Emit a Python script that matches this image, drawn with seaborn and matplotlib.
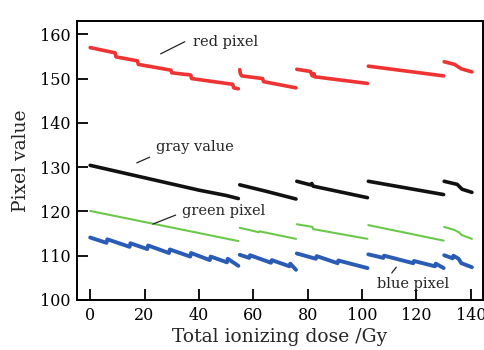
import matplotlib
matplotlib.use("Agg")
import matplotlib.pyplot as plt
import pandas as pd
import seaborn as sns

# Data (dose in Gy, pixel value), one list of segment ids per series
red_dose = [0, 9.2, 9.5, 17.4, 17.7, 29.7, 30, 37, 37.3, 52.4, 52.8, 54.5,
            55, 55.3, 55.8, 63.4, 63.8, 75.7,
            76, 81, 81.7, 82.3, 82.6, 102,
            102.3, 130,
            130.2, 134, 136.5, 140.4]
red_val = [157.0, 155.8, 154.9, 154.0, 153.2, 151.9, 151.3, 150.8, 150.0, 148.7, 147.9, 147.7,
           152.0, 151.0, 150.6, 150.0, 149.3, 147.9,
           152.1, 151.6, 150.6, 151.1, 150.4, 148.9,
           152.8, 150.6,
           153.8, 153.2, 152.2, 151.5]
red_seg = [1] * 12 + [2] * 6 + [3] * 6 + [4] * 2 + [5] * 4

gray_dose = [0, 10, 20, 30, 40, 50, 54.5,
             55, 65, 75.7,
             76, 81, 81.5, 82, 102,
             102.3, 130,
             130.2, 135, 136.8, 140.4]
gray_val = [130.4, 129.0, 127.6, 126.2, 124.8, 123.6, 122.9,
            126.0, 124.5, 122.8,
            126.8, 126.0, 126.3, 125.7, 123.1,
            126.8, 123.8,
            126.8, 126.1, 125.0, 124.3]
gray_seg = [1] * 7 + [2] * 3 + [3] * 5 + [4] * 2 + [5] * 4

green_dose = [0, 54.5,
              55, 62, 62.3, 75.7,
              76, 81.7, 82, 102,
              102.3, 130,
              130.2, 134, 135.8, 136.5, 140.4]
green_val = [120.1, 113.3,
             116.3, 115.3, 115.5, 113.8,
             117.1, 116.5, 116.0, 113.8,
             116.9, 113.4,
             116.5, 115.8, 115.2, 114.7, 113.8]
green_seg = [1] * 2 + [2] * 4 + [3] * 4 + [4] * 2 + [5] * 5

blue_dose = [0, 6, 6.3, 14.5, 14.8, 21, 21.3, 29, 29.3, 36.8, 37.1, 44, 44.3, 50.3, 50.6, 54.5,
             55, 58.5, 58.8, 66.5, 66.8, 73.3, 73.6, 75.7,
             76, 83, 83.3, 91, 91.3, 102,
             102.3, 107.8, 108.1, 118.8, 119.1, 126.8, 127.1, 130,
             130.2, 133.3, 133.6, 135.5, 136.5, 140.4]
blue_val = [114.1, 112.9, 113.7, 112.0, 112.8, 111.5, 112.3, 110.6, 111.4, 109.8, 110.6, 109.0, 109.8, 108.5, 109.3, 107.7,
            110.2, 109.5, 110.1, 108.4, 109.0, 107.6, 108.2, 106.8,
            110.5, 109.3, 109.9, 108.3, 108.9, 107.2,
            110.3, 109.5, 110.0, 108.3, 108.8, 107.6, 108.2, 107.2,
            110.1, 109.4, 110.0, 109.3, 108.3, 107.4]
blue_seg = [1] * 16 + [2] * 8 + [3] * 6 + [4] * 8 + [5] * 6

frames = []
for name, d, v, s in [("red", red_dose, red_val, red_seg),
                      ("gray", gray_dose, gray_val, gray_seg),
                      ("green", green_dose, green_val, green_seg),
                      ("blue", blue_dose, blue_val, blue_seg)]:
    frames.append(pd.DataFrame({"series": name, "dose": d, "value": v, "seg": s}))
df = pd.concat(frames, ignore_index=True)

palette = {"red": "#EF3333", "gray": "#111111", "green": "#6CC84A", "blue": "#2B5CB5"}
widths = {"red": 2.6, "gray": 2.6, "green": 1.5, "blue": 2.8}

sns.set_style("ticks")
plt.rcParams["font.family"] = ["DejaVu Serif"]

fig, ax = plt.subplots(figsize=(4.85, 3.5), dpi=100)
fig.subplots_adjust(left=0.159, right=0.996, bottom=0.143, top=0.94)

for name in ["red", "gray", "green", "blue"]:
    sns.lineplot(data=df[df["series"] == name], x="dose", y="value", units="seg",
                 estimator=None, color=palette[name], linewidth=widths[name],
                 sort=False, ax=ax, legend=False)

ax.set_xlim(-4.8, 144.5)
ax.set_ylim(100, 163)
ax.set_xticks(range(0, 141, 20))
ax.set_yticks(range(100, 161, 10))
ax.tick_params(direction="in", length=8, width=1.3, labelsize=11.5, pad=5,
               colors="black")
for sp in ax.spines.values():
    sp.set_linewidth(1.4)
    sp.set_color("black")

ax.set_xlabel("Total ionizing dose /Gy", fontsize=13.5, labelpad=3)
ax.set_ylabel("Pixel value", fontsize=13.5, labelpad=7)

# leader lines and labels
line_kw = dict(arrowstyle="-", color="#222222", lw=0.9)
ax.annotate("", xy=(25, 155.3), xytext=(35.7, 158.6), arrowprops=line_kw)
ax.text(37.9, 158.3, "red pixel", fontsize=10.5, va="center", ha="left")
ax.annotate("", xy=(16.2, 130.7), xytext=(22.8, 132.5), arrowprops=line_kw)
ax.text(24.3, 134.5, "gray value", fontsize=10.5, va="center", ha="left")
ax.annotate("", xy=(22.1, 116.9), xytext=(32.4, 119.4), arrowprops=line_kw)
ax.text(33.8, 120.1, "green pixel", fontsize=10.5, va="center", ha="left")
ax.annotate("", xy=(113.2, 107.9), xytext=(110.3, 105.6), arrowprops=line_kw)
ax.text(105.5, 103.6, "blue pixel", fontsize=10.5, va="center", ha="left")

fig.savefig("out.png", dpi=100)
